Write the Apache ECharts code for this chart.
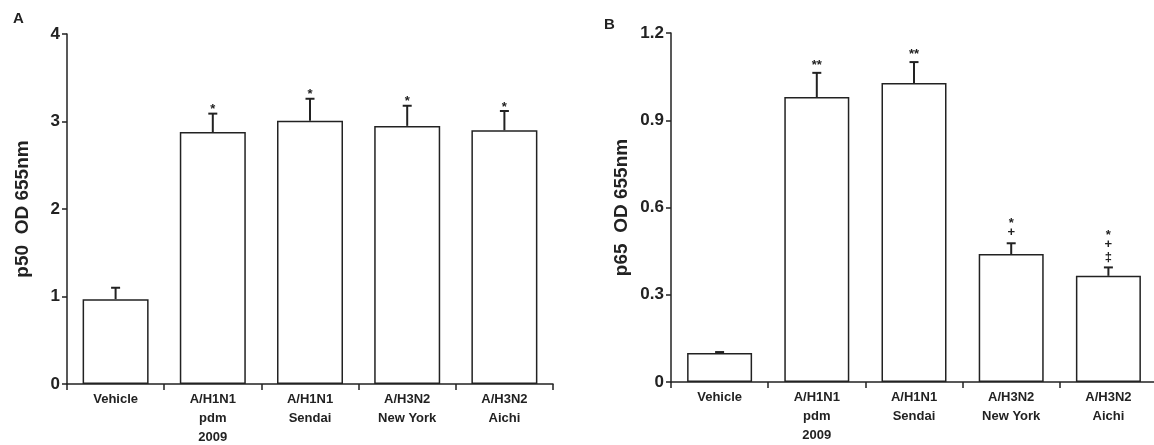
<!DOCTYPE html>
<html>
<head>
<meta charset="utf-8">
<script src="https://cdn.jsdelivr.net/npm/echarts@6/dist/echarts.min.js"></script>
<style>
html,body{margin:0;padding:0;background:#fff;}
#chart{width:1154px;height:445px;}
</style>
</head>
<body>
<div id="chart"></div>
<script>
const categories = ['Vehicle', 'A/H1N1\npdm\n2009', 'A/H1N1\nSendai', 'A/H3N2\nNew York', 'A/H3N2\nAichi'];
const p50Mean = [0.97, 2.88, 3.01, 2.95, 2.90];
const p50Err = [0.13, 0.21, 0.25, 0.23, 0.22];
const p50Marks = ['', '*', '*', '*', '*'];
const p65Mean = [0.10, 0.98, 1.028, 0.44, 0.365];
const p65Err = [0.003, 0.083, 0.072, 0.037, 0.029];
const p65Marks = ['', '**', '**', '*\n+', '*\n+\n‡'];
const p50Ticks = {min: 0, max: 4, interval: 1};
const p65Ticks = {min: 0, max: 1.2, interval: 0.3};

const INK = '#222';
const FONT = '"Liberation Sans", Arial, sans-serif';

function errData(mean, err, marks) {
  return mean.map((m, i) => [i, m, m + err[i], marks[i]]);
}

function makeRender(firstOffset, spacing) {
  return function (params, api) {
    const i = api.value(0);
    const base = api.coord([i, api.value(1)]);
    const top = api.coord([i, api.value(2)]);
    const mark = String(api.value(3) || '');
    const x = base[0];
    const children = [
      {type: 'line', shape: {x1: x, y1: top[1], x2: x, y2: base[1]}, style: {stroke: INK, lineWidth: 2}},
      {type: 'line', shape: {x1: x - 4.5, y1: top[1], x2: x + 4.5, y2: top[1]}, style: {stroke: INK, lineWidth: 2}}
    ];
    if (mark) {
      const lines = mark.split('\n').reverse();
      lines.forEach((ln, k) => {
        const center = top[1] - firstOffset - k * spacing;
        const corr = ln.indexOf('*') >= 0 ? 3 : (ln === '‡' ? 0.5 : 0);
        children.push({type: 'text', x: x, y: center + corr, style: {
          text: ln, align: 'center', verticalAlign: 'middle',
          fontSize: 13, fontWeight: 'bold', fontFamily: FONT, fill: INK
        }});
      });
    }
    return {type: 'group', children: children};
  };
}

function xAxisCfg(gi) {
  return {
    type: 'category', gridIndex: gi, data: categories,
    axisLine: {lineStyle: {color: INK, width: 1.5}},
    axisTick: {show: true, length: 6, lineStyle: {color: INK, width: 1.5}},
    axisLabel: {color: INK, fontSize: 13, fontWeight: 'bold', fontFamily: FONT, lineHeight: 19, margin: 6, interval: 0}
  };
}
function yAxisCfg(gi, ticks, name, gap) {
  return {
    type: 'value', gridIndex: gi, min: ticks.min, max: ticks.max, interval: ticks.interval,
    name: name, nameLocation: 'middle', nameGap: gap, nameRotate: 90,
    nameTextStyle: {color: INK, fontSize: 19, fontWeight: 'bold', fontFamily: FONT},
    axisLine: {show: true, lineStyle: {color: INK, width: 1.5}},
    axisTick: {show: true, length: 5, lineStyle: {color: INK, width: 1.5}},
    axisLabel: {color: INK, fontSize: 17, fontWeight: 'bold', fontFamily: FONT, margin: 7},
    splitLine: {show: false}
  };
}

const chart = echarts.init(document.getElementById('chart'), null, {renderer: 'canvas'});
chart.setOption({
  animation: false,
  backgroundColor: '#fff',
  graphic: [
    {type: 'text', left: 13, top: 11, style: {text: 'A', fontSize: 15, fontWeight: 'bold', fontFamily: FONT, fill: INK}},
    {type: 'text', left: 604, top: 17, style: {text: 'B', fontSize: 15, fontWeight: 'bold', fontFamily: FONT, fill: INK}}
  ],
  grid: [
    {left: 67, top: 34, width: 486, height: 350, outerBoundsMode: 'none', containLabel: false},
    {left: 671, top: 33, width: 486, height: 349, outerBoundsMode: 'none', containLabel: false}
  ],
  xAxis: [xAxisCfg(0), xAxisCfg(1)],
  yAxis: [yAxisCfg(0, p50Ticks, 'p50  OD 655nm', 35), yAxisCfg(1, p65Ticks, 'p65  OD 655nm', 40)],
  series: [
    {type: 'bar', xAxisIndex: 0, yAxisIndex: 0, data: p50Mean, barWidth: 66,
      itemStyle: {color: '#fff', borderColor: INK, borderWidth: 1.5}},
    {type: 'custom', xAxisIndex: 0, yAxisIndex: 0, data: errData(p50Mean, p50Err, p50Marks),
      renderItem: makeRender(7, 12.3), encode: {x: 0, y: [1, 2]}, z: 5},
    {type: 'bar', xAxisIndex: 1, yAxisIndex: 1, data: p65Mean, barWidth: 65,
      itemStyle: {color: '#fff', borderColor: INK, borderWidth: 1.5}},
    {type: 'custom', xAxisIndex: 1, yAxisIndex: 1, data: errData(p65Mean, p65Err, p65Marks),
      renderItem: makeRender(10.5, 12.3), encode: {x: 0, y: [1, 2]}, z: 5}
  ]
});
</script>
</body>
</html>
